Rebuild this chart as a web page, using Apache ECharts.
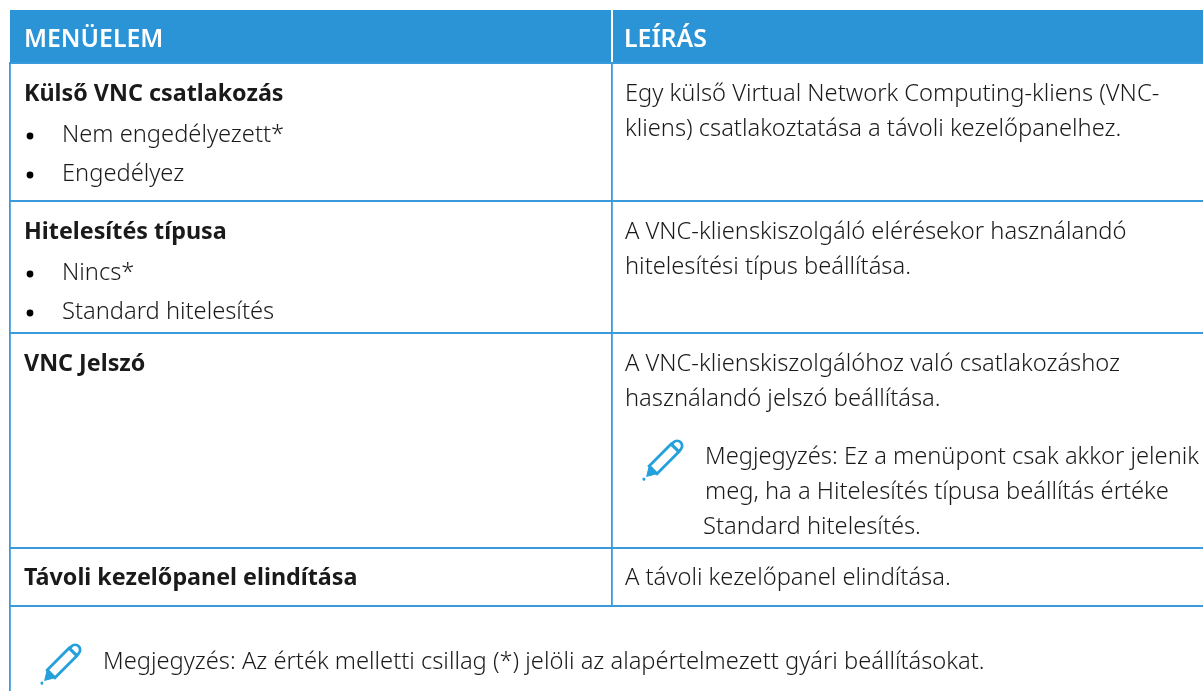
<!DOCTYPE html>
<html><head><meta charset="utf-8">
<style>html,body{margin:0;padding:0;background:#fff}#c{width:1203px;height:691px}</style>
<script src="https://cdn.jsdelivr.net/npm/echarts@6/dist/echarts.min.js"></script>
</head><body><div id="c"></div>
<script>
var headers = ['MENÜELEM', 'LEÍRÁS'];
var rowTitles = ['Külső VNC csatlakozás', 'Hitelesítés típusa', 'VNC Jelszó', 'Távoli kezelőpanel elindítása'];
var rowBullets = [['Nem engedélyezett*', 'Engedélyez'], ['Nincs*', 'Standard hitelesítés'], [], []];
var rowDescriptions = [
  ['Egy külső Virtual Network Computing-kliens (VNC-', 'kliens) csatlakoztatása a távoli kezelőpanelhez.'],
  ['A VNC-klienskiszolgáló elérésekor használandó', 'hitelesítési típus beállítása.'],
  ['A VNC-klienskiszolgálóhoz való csatlakozáshoz', 'használandó jelszó beállítása.'],
  ['A távoli kezelőpanel elindítása.']
];
var rowNote = ['Megjegyzés: Ez a menüpont csak akkor jelenik', 'meg, ha a Hitelesítés típusa beállítás értéke', 'Standard hitelesítés.'];
var footNote = 'Megjegyzés: Az érték melletti csillag (*) jelöli az alapértelmezett gyári beállításokat.';

var FONT = '"Noto Sans"', BLUE = '#2b94d6', LINE = '#3a9bdc', ICON = '#24a0dc', INK = '#1a1a1a';
var SIZE = 23.7;
var rowTop = [62, 200, 332, 547, 605];
var titleY = [94, 232, 364, 578];
var colSep = 611, leftX = 9;
var g = [];
function rect(x, y, w, h, fill) { g.push({type:'rect', shape:{x:x,y:y,width:w,height:h}, style:{fill:fill}, silent:true}); }
function text(s, x, y, o) {
  o = o || {};
  g.push({type:'text', x:x, y:y, style:{text:s, fill:o.fill||INK, fontFamily:FONT, fontSize:o.size||SIZE, fontWeight:o.weight||300, align:'left', verticalAlign:'middle'}, silent:true});
}
function pencil(cx, cy) {
  var st = {fill:'none', stroke:ICON, lineWidth:2.8};
  g.push({type:'group', x:cx, y:cy, rotation:-Math.PI/4, silent:true, children:[
    {type:'rect', shape:{x:-5.5,y:-17,width:11,height:31}, style:st, silent:true},
    {type:'rect', shape:{x:-5,y:-25,width:10,height:8,r:[5,5,0,0]}, style:st, silent:true},
    {type:'polygon', shape:{points:[[-5.5,14],[0,23],[5.5,14]]}, style:{fill:ICON, stroke:ICON, lineWidth:1}, silent:true},
    {type:'circle', shape:{cx:0,cy:27,r:1.5}, style:{fill:ICON}, silent:true}
  ]});
}
rect(10, 10, colSep-10, 53, BLUE);
rect(colSep+2, 10, 1203-colSep-2, 53, BLUE);
text(headers[0], 24, 40, {fill:'#fff', weight:600, size:24.8});
text(headers[1], 624, 40, {fill:'#fff', weight:600, size:24.8});
rowTop.forEach(function(y){ rect(leftX, y, 1203-leftX, 2, LINE); });
rect(leftX, 62, 1.8, 629, LINE);
rect(colSep, 62, 1.8, 544, LINE);
rowTitles.forEach(function(t, i){
  text(t, 24, titleY[i], {weight:'bold', size:23.3});
  rowBullets[i].forEach(function(b, j){
    var y = titleY[i] + 41 + j*39;
    g.push({type:'circle', shape:{cx:30, cy:y+1, r:3.4}, style:{fill:'#000'}, silent:true});
    text(b, 62, y);
  });
});
rowDescriptions.forEach(function(d, i){
  d.forEach(function(s, j){ text(s, 625, titleY[i] + j*35); });
});
rowNote.forEach(function(s, j){ text(s, j==2?703:705, 457 + j*35); });
pencil(663, 460);
text(footNote, 103, 662);
pencil(61, 664);
var chart = echarts.init(document.getElementById('c'));
chart.setOption({animation:false, backgroundColor:'#fff', graphic:{elements:g}});
</script></body></html>
